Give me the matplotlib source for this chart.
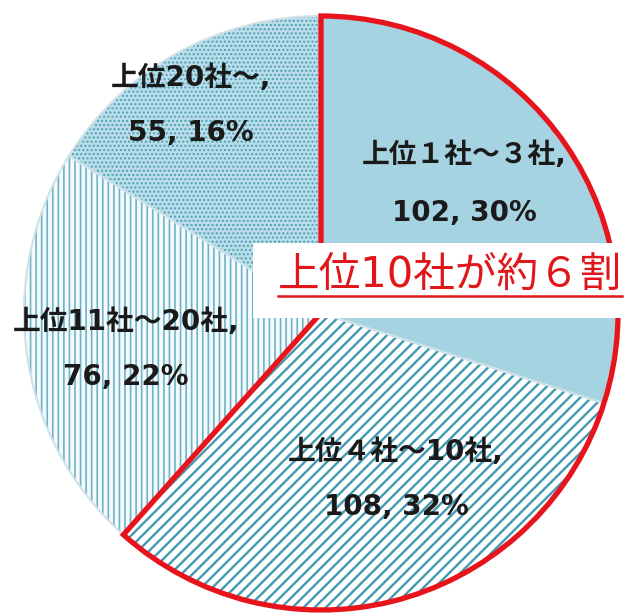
import matplotlib
matplotlib.use("Agg")
import matplotlib.pyplot as plt
from matplotlib.patches import Wedge, Rectangle
from matplotlib.lines import Line2D

# データ
categories = ["上位１社～３社", "上位４社～10社", "上位11社～20社", "上位20社～"]
counts = [102, 108, 76, 55]
shares = [30, 32, 22, 16]
callout = "上位10社が約６割"
n_top = 2  # 上位10社 = 最初の2区分

plt.rcParams["font.family"] = ["DejaVu Sans", "Noto Sans CJK JP"]
plt.rcParams["hatch.linewidth"] = 1.6

W, H = 629, 616
fig = plt.figure(figsize=(W / 100, H / 100), dpi=100)
cx, cy, r = 321, 313, 297
ax = fig.add_axes([(cx - r) / W, (H - cy - r) / H, 2 * r / W, 2 * r / H])

faces = ["#a6d3e1", "#ffffff", "#f4fafc", "#b9dee9"]
hatch_cols = ["#a6d3e1", "#4299b2", "#6fb3c7", "#4f9fb6"]
hatches = [None, "///", "|||", "...."]
hatch_lw = [1.0, 1.7, 1.2, 1.0]

wedges, _ = ax.pie(counts, startangle=90, counterclock=False, radius=1,
                   wedgeprops=dict(linewidth=0))
for w, fc, hc, h, hl in zip(wedges, faces, hatch_cols, hatches, hatch_lw):
    w.set_facecolor(fc)
    w.set_edgecolor(hc)
    w.set_linewidth(0)
    if h:
        w.set_hatch(h)
    if hasattr(w, "set_hatch_linewidth"):
        w.set_hatch_linewidth(hl)

# 区切り線
ax.pie(counts, startangle=90, counterclock=False, radius=1,
       wedgeprops=dict(fill=False, edgecolor="#cfe2e9", linewidth=1.5))

# 上位10社の赤枠
total = sum(counts)
theta1 = 90 - 360 * sum(counts[:n_top]) / total
ax.add_patch(Wedge((0, 0), 1, theta1, 90, fill=False, edgecolor="#e8141b",
                   linewidth=3.8, clip_on=False, zorder=5))
ax.set_xlim(-1, 1)
ax.set_ylim(-1, 1)
ax.set_aspect("equal")
ax.axis("off")

# ラベル (px位置: x, 1行目y, 2行目y)
lab_pos = [(464, 155, 213), (396, 452, 507), (126, 322, 377), (191, 78, 133)]
for name, c, s, (x, y1, y2) in zip(categories, counts, shares, lab_pos):
    fig.text(x / W, 1 - y1 / H, name + ",", ha="center", va="center",
             fontsize=20, fontweight="bold", color="#1a1a1a", zorder=6)
    fig.text(x / W, 1 - y2 / H, f"{c}, {s}%", ha="center", va="center",
             fontsize=20, fontweight="bold", color="#1a1a1a", zorder=6)

# 吹き出し
fig.add_artist(Rectangle((253 / W, 1 - 318 / H), (W - 253) / W, 75 / H,
                         transform=fig.transFigure, facecolor="white",
                         edgecolor="none", zorder=7))
t = fig.text(278 / W, 1 - 275 / H, callout, ha="left", va="center",
             fontsize=30, color="#e0161b", zorder=8)
fig.canvas.draw()
bb = t.get_window_extent()
uy = (H - 296) / H
fig.add_artist(Line2D([bb.x0 / W, bb.x1 / W], [uy, uy], transform=fig.transFigure,
                      color="#e0161b", linewidth=1.8, zorder=8))

fig.savefig("out.png", dpi=100)
